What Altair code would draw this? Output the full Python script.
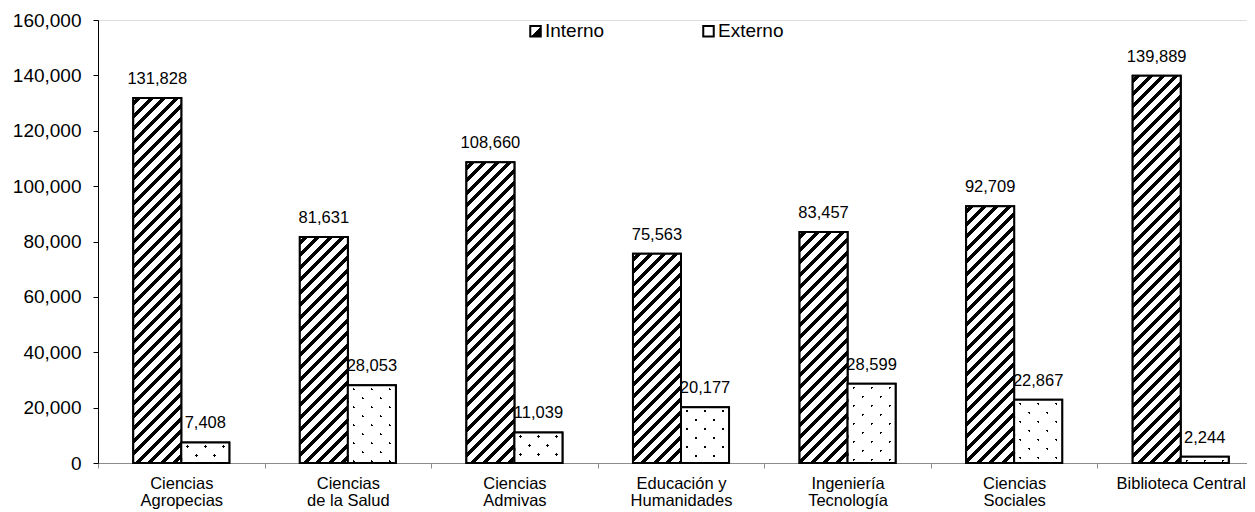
import altair as alt

# ---------------- data ----------------
categories = ["Ciencias|Agropecias", "Ciencias|de la Salud", "Ciencias|Admivas",
              "Educación y|Humanidades", "Ingeniería|Tecnología", "Ciencias|Sociales",
              "Biblioteca Central"]
series_names = ["Interno", "Externo"]
interno = [131828, 81631, 108660, 75563, 83457, 92709, 139889]
externo = [7408, 28053, 11039, 20177, 28599, 22867, 2244]
y_tick_values = [0, 20000, 40000, 60000, 80000, 100000, 120000, 140000, 160000]

# ---------------- layout constants ----------------
PLOT_W = 1149
PLOT_H = 443
X_RANGE = 1166
Y_MAX = 160000
OFF_PAD = 0.734
STEP = X_RANGE / len(categories)
BAR_W = STEP / (2 + 2 * OFF_PAD)
FONT = "Liberation Sans"


def stripe_gradient(w, h, kind, period, width, center, fg, bg):
    """Striped linear gradient (objectBoundingBox units) giving 45-degree
    stripes in pixel space for a bar of w x h pixels."""
    S = w + h
    k = S / (w * w + h * h)
    if kind == "pos":
        x1, y1, x2, y2 = 0.0, 0.0, k * w, k * h
    else:
        x1, y1, x2, y2 = 0.0, 1.0, k * w, 1.0 - k * h
    stops = [{"offset": 0, "color": bg}]
    a = (center - width / 2) % period - period
    while a < S:
        b = a + width
        lo, hi = max(a, 0.0), min(b, S)
        if hi > lo:
            lo_o, hi_o = round(lo / S, 5), round(hi / S, 5)
            stops += [{"offset": lo_o, "color": bg}, {"offset": lo_o, "color": fg},
                      {"offset": hi_o, "color": fg}, {"offset": hi_o, "color": bg}]
        a += period
    stops.append({"offset": 1, "color": bg})
    return {"gradient": "linear", "x1": round(x1, 6), "y1": round(y1, 6),
            "x2": round(x2, 6), "y2": round(y2, 6), "stops": stops}


records = []
for cat, vi, ve in zip(categories, interno, externo):
    hi = vi / Y_MAX * PLOT_H
    records.append({
        "category": cat, "series": "Interno", "value": vi,
        "g1": stripe_gradient(BAR_W, hi, "pos", 12.5, 5.0, 6, "black", "white"),
        "g2": "transparent",
    })
    he = ve / Y_MAX * PLOT_H
    records.append({
        "category": cat, "series": "Externo", "value": ve,
        "g1": stripe_gradient(BAR_W, he, "pos", 18, 2.6, 10, "black", "white"),
        "g2": stripe_gradient(BAR_W, he, "neg", 18, 2.6, (2 + he) % 18,
                              "rgba(255,255,255,0)", "white"),
    })

data = alt.Data(values=records)

x_enc = alt.X(
    "category:N", sort=categories,
    scale=alt.Scale(domain=categories, range=[0, X_RANGE], paddingInner=0, paddingOuter=0),
    axis=alt.Axis(title=None, labelAngle=0, labelFontSize=16.5, labelColor="black",
                  labelFont=FONT, labelExpr="split(datum.label, '|')",
                  labelBaseline="top", labelLineHeight=17, labelPadding=7,
                  domainColor="#8c8c8c", tickColor="#8c8c8c", tickSize=5,
                  tickBand="extent", grid=False, labelOverlap=False),
)
xoff_enc = alt.XOffset("series:N", sort=series_names,
                       scale=alt.Scale(domain=series_names, paddingInner=0, paddingOuter=OFF_PAD))
y_enc = alt.Y(
    "value:Q", stack=None,
    scale=alt.Scale(domain=[0, Y_MAX], nice=False, zero=True),
    axis=alt.Axis(title=None, values=y_tick_values, format=",d", labelFontSize=19,
                  labelColor="black", labelFont=FONT, domainColor="black",
                  tickColor="black", tickSize=5, labelPadding=12, grid=False),
)

legend_grad = ("{gradient: 'linear', x1: 0, y1: 0, x2: 1, y2: 1, stops: ["
               "{offset: 0, color: 'white'}, {offset: 0.55, color: 'white'}, "
               "{offset: 0.55, color: 'black'}, {offset: 1, color: 'black'}]}")

legend_layer = alt.Chart().mark_bar(stroke="black", strokeWidth=2).encode(
    x=x_enc, xOffset=xoff_enc, y=y_enc,
    color=alt.Color(
        "series:N",
        scale=alt.Scale(domain=series_names, range=[alt.ExprRef(legend_grad), "white"]),
        legend=alt.Legend(title=None, orient="none", legendX=428, legendY=1.5,
                          direction="horizontal", symbolType="square", symbolSize=110,
                          symbolStrokeWidth=2, symbolStrokeColor="black",
                          labelFontSize=19, labelFont=FONT, labelColor="black",
                          labelOffset=0, columnPadding=94, padding=0),
    ),
)

fill_layer = alt.Chart().mark_bar(strokeWidth=0).encode(
    x=x_enc, xOffset=xoff_enc, y=y_enc,
    fill=alt.Fill("g1:N", scale=None, legend=None),
)

top_layer = alt.Chart().mark_bar(stroke="black", strokeWidth=2).encode(
    x=x_enc, xOffset=xoff_enc, y=y_enc,
    fill=alt.Fill("g2:N", scale=None, legend=None),
)

text_layer = alt.Chart().mark_text(dy=-14, fontSize=16.5, font=FONT, color="black",
                                   baseline="alphabetic").encode(
    x=x_enc, xOffset=xoff_enc, y=y_enc,
    text=alt.Text("value:Q", format=","),
)

chart = alt.layer(legend_layer, fill_layer, top_layer, text_layer, data=data).properties(
    width=PLOT_W, height=PLOT_H,
    padding={"left": 90, "top": 12, "right": 0, "bottom": 49},
    autosize=alt.AutoSizeParams(type="none"),
).configure_view(stroke=None).configure(font=FONT)

chart.save("out.html", embed_options={"renderer": "svg", "actions": False})
